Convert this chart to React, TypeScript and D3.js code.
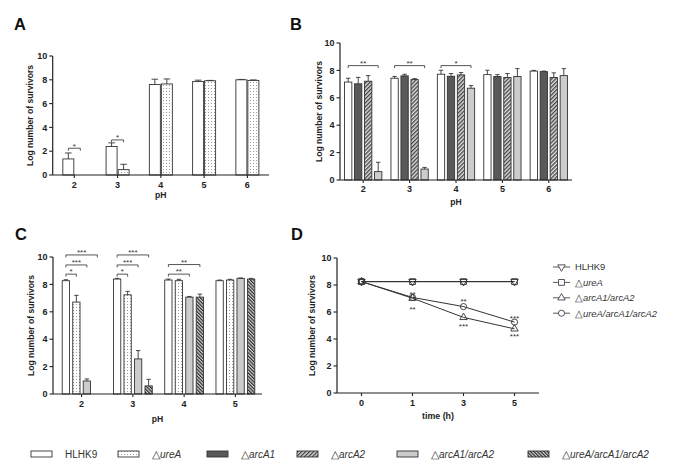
import React from 'react';
import * as d3 from 'd3';

const FONT = '"Liberation Sans", Arial, Helvetica, sans-serif';

// ---------- Panel A ----------
const pHA = ['2', '3', '4', '5', '6'];
const hlhk9A = [1.35, 2.4, 7.6, 7.85, 8.0];
const hlhk9AErr = [0.5, 0.3, 0.45, 0.12, 0.03];
const ureA_A = [0, 0.45, 7.65, 7.92, 7.95];
const ureA_AErr = [0, 0.45, 0.42, 0.03, 0.04];
const sigA = [
  { cat: '2', from: 0, to: 1, level: 2.25, label: '*' },
  { cat: '3', from: 0, to: 1, level: 2.95, label: '*' },
];

// ---------- Panel B ----------
const pHB = ['2', '3', '4', '5', '6'];
const hlhk9B = [7.15, 7.43, 7.72, 7.69, 7.95];
const hlhk9BErr = [0.28, 0.13, 0.29, 0.32, 0.05];
const arcA1B = [7.02, 7.6, 7.57, 7.55, 7.91];
const arcA1BErr = [0.47, 0.12, 0.2, 0.14, 0.04];
const arcA2B = [7.21, 7.33, 7.67, 7.48, 7.48];
const arcA2BErr = [0.41, 0.07, 0.17, 0.29, 0.34];
const dblB = [0.61, 0.8, 6.7, 7.55, 7.62];
const dblBErr = [0.68, 0.12, 0.19, 0.58, 0.51];
const sigB = [
  { cat: '2', from: 0, to: 3, level: 8.35, label: '**' },
  { cat: '3', from: 0, to: 3, level: 8.35, label: '**' },
  { cat: '4', from: 0, to: 3, level: 8.35, label: '*' },
];

// ---------- Panel C ----------
const pHC = ['2', '3', '4', '5'];
const hlhk9C = [8.27, 8.39, 8.32, 8.27];
const hlhk9CErr = [0.07, 0.05, 0.07, 0.05];
const ureA_C = [6.71, 7.24, 8.27, 8.32];
const ureA_CErr = [0.49, 0.25, 0.1, 0.05];
const dblC = [0.95, 2.56, 7.07, 8.44];
const dblCErr = [0.15, 0.61, 0.05, 0.03];
const tripleC = [0, 0.59, 7.07, 8.39];
const tripleCErr = [0, 0.48, 0.22, 0.05];
const sigC = [
  { cat: '2', from: 0, to: 1, level: 8.75, label: '*' },
  { cat: '2', from: 0, to: 2, level: 9.42, label: '***' },
  { cat: '2', from: 0, to: 3, level: 10.15, label: '***' },
  { cat: '3', from: 0, to: 1, level: 8.75, label: '*' },
  { cat: '3', from: 0, to: 2, level: 9.42, label: '***' },
  { cat: '3', from: 0, to: 3, level: 10.15, label: '***' },
  { cat: '4', from: 0, to: 2, level: 8.75, label: '**' },
  { cat: '4', from: 0, to: 3, level: 9.45, label: '**' },
];

// ---------- Panel D ----------
const timeD = ['0', '1', '3', '5'];
const hlhk9D = [8.25, 8.25, 8.25, 8.25];
const ureA_D = [8.25, 8.25, 8.25, 8.25];
const arcD = [8.25, 7.02, 5.6, 4.75];
const tripleD = [8.25, 7.08, 6.4, 5.25];
const sigD = [
  { t: '1', y: 7.48, label: '**' },
  { t: '1', y: 6.37, label: '**' },
  { t: '3', y: 6.96, label: '**' },
  { t: '3', y: 5.04, label: '***' },
  { t: '5', y: 5.7, label: '***' },
  { t: '5', y: 4.3, label: '***' },
];
const legendD = ['HLHK9', 'ureA', 'arcA1/arcA2', 'ureA/arcA1/arcA2'];

// ---------- Shared ----------
const yTicks = [0, 2, 4, 6, 8, 10];
const strainLabels = ['HLHK9', 'ureA', 'arcA1', 'arcA2', 'arcA1/arcA2', 'ureA/arcA1/arcA2'];

const FILLS: Record<string, string> = {
  HLHK9: '#ffffff',
  ureA: 'url(#dots)',
  arcA1: '#595959',
  arcA2: 'url(#hatchF)',
  'arcA1/arcA2': '#cccccc',
  'ureA/arcA1/arcA2': 'url(#hatchB)',
};

type S = { name: string; values: number[]; errors: number[] };
type Sig = { cat: string; from: number; to: number; level: number; label: string };

const AX = '#222';

function StrainLabel({ name, x, y, size }: { name: string; x: number; y: number; size: number }) {
  if (name === 'HLHK9')
    return (
      <text x={x} y={y} fontSize={size} fontFamily={FONT} fill="#333">
        HLHK9
      </text>
    );
  return (
    <text x={x} y={y} fontSize={size} fontFamily={FONT} fill="#333">
      <tspan fontSize={size * 1.05}>△</tspan>
      <tspan fontStyle="italic">{name}</tspan>
    </text>
  );
}

function YAxis({ x, y, titleX, yMid }: { x: number; y: d3.ScaleLinear<number, number>; titleX: number; yMid: number }) {
  return (
    <g>
      <line x1={x} x2={x} y1={y(0)} y2={y(10)} stroke={AX} strokeWidth={1.2} />
      {yTicks.map((t) => (
        <g key={t}>
          <line x1={x - 3.5} x2={x} y1={y(t)} y2={y(t)} stroke={AX} strokeWidth={1.1} />
          <text x={x - 5.5} y={y(t)} dy="0.35em" textAnchor="end" fontSize={9} fontWeight="bold" fontFamily={FONT} fill={AX}>
            {t}
          </text>
        </g>
      ))}
      <text
        transform={`translate(${titleX},${yMid}) rotate(-90)`}
        textAnchor="middle"
        fontSize={8.6}
        fontWeight="bold"
        fontFamily={FONT}
        fill={AX}
      >
        Log number of survivors
      </text>
    </g>
  );
}

function BarPanel(props: {
  categories: string[];
  series: S[];
  sigs: Sig[];
  axisX: number;
  xRange: [number, number];
  xEnd: number;
  yZero: number;
  yTen: number;
  barW: number;
  barStep: number;
  tickBase: number;
  titleBase: number;
  yTitleX: number;
  letter: string;
  letterX: number;
  letterY: number;
}) {
  const { categories, series, sigs, axisX, xRange, xEnd, yZero, yTen, barW, barStep } = props;
  const x = d3.scaleBand<string>().domain(categories).range(xRange);
  const y = d3.scaleLinear().domain([0, 10]).range([yZero, yTen]);
  const n = series.length;
  const groupW = (n - 1) * barStep + barW;
  const barX = (c: string, i: number) => (x(c) as number) + x.bandwidth() / 2 - groupW / 2 + i * barStep;
  const center = (c: string, i: number) => barX(c, i) + barW / 2;
  return (
    <g>
      <text x={props.letterX} y={props.letterY} fontSize={16.5} fontWeight="bold" fontFamily={FONT} fill="#111">
        {props.letter}
      </text>
      {series.map((s, i) =>
        categories.map((c, j) => {
          const v = s.values[j];
          const e = s.errors[j];
          const bx = barX(c, i);
          const cx = bx + barW / 2;
          return (
            <g key={`${i}-${j}`}>
              {v > 0 && (
                <rect x={bx} y={y(v)} width={barW} height={y(0) - y(v)} fill={FILLS[s.name]} stroke="#333" strokeWidth={0.9} />
              )}
              {e > 0 && (
                <g stroke="#333" strokeWidth={0.9}>
                  <line x1={cx} x2={cx} y1={y(v)} y2={y(v + e)} />
                  <line x1={cx - barW * 0.3} x2={cx + barW * 0.3} y1={y(v + e)} y2={y(v + e)} />
                </g>
              )}
            </g>
          );
        })
      )}
      {/* x axis */}
      <line x1={axisX} x2={xEnd} y1={y(0)} y2={y(0)} stroke={AX} strokeWidth={1.2} />
      {categories.map((c) => {
        const cx = (x(c) as number) + x.bandwidth() / 2;
        return (
          <g key={c}>
            <line x1={cx} x2={cx} y1={y(0)} y2={y(0) + 3} stroke={AX} strokeWidth={1.1} />
            <text x={cx} y={props.tickBase} textAnchor="middle" fontSize={9} fontWeight="bold" fontFamily={FONT} fill={AX}>
              {c}
            </text>
          </g>
        );
      })}
      <text
        x={(axisX + xEnd) / 2}
        y={props.titleBase}
        textAnchor="middle"
        fontSize={8.6}
        fontWeight="bold"
        fontFamily={FONT}
        fill={AX}
      >
        pH
      </text>
      <YAxis x={axisX} y={y} titleX={props.yTitleX} yMid={(yZero + yTen) / 2} />
      {/* significance brackets */}
      {sigs.map((s, k) => {
        const xa = center(s.cat, s.from);
        const xb = center(s.cat, s.to);
        const ly = y(s.level);
        return (
          <g key={k}>
            <path d={`M${xa},${ly + 2.5}V${ly}H${xb}V${ly + 2.5}`} fill="none" stroke="#444" strokeWidth={0.9} />
            <text x={(xa + xb) / 2} y={ly + 0.3} textAnchor="middle" fontSize={8} fontFamily={FONT} fill="#333">
              {s.label}
            </text>
          </g>
        );
      })}
    </g>
  );
}

const symbolTypes = [
  { type: d3.symbolTriangle, size: 24, rot: 180 },
  { type: d3.symbolSquare, size: 34, rot: 0 },
  { type: d3.symbolTriangle, size: 24, rot: 0 },
  { type: d3.symbolCircle, size: 30, rot: 0 },
];

function LinePanel() {
  const axisX = 337;
  const xEnd = 539;
  const x = d3.scalePoint<string>().domain(timeD).range([axisX, xEnd]).padding(0.48);
  const y = d3.scaleLinear().domain([0, 10]).range([393, 258]);
  const seriesD = [hlhk9D, ureA_D, arcD, tripleD];
  const line = d3
    .line<number>()
    .x((_, i) => x(timeD[i]) as number)
    .y((d) => y(d));
  return (
    <g>
      <text x={291} y={240} fontSize={16.5} fontWeight="bold" fontFamily={FONT} fill="#111">
        D
      </text>
      {seriesD.map((s, i) => (
        <path key={i} d={line(s) as string} fill="none" stroke="#333" strokeWidth={1} />
      ))}
      {seriesD.map((s, i) =>
        s.map((v, j) => (
          <path
            key={`${i}-${j}`}
            d={d3.symbol(symbolTypes[i].type, symbolTypes[i].size)() as string}
            transform={`translate(${x(timeD[j])},${y(v)}) rotate(${symbolTypes[i].rot})`}
            fill="none"
            stroke="#333"
            strokeWidth={0.9}
          />
        ))
      )}
      {sigD.map((s, k) => (
        <text key={k} x={x(s.t) as number} y={y(s.y) + 4.5} textAnchor="middle" fontSize={8} fontFamily={FONT} fill="#333">
          {s.label}
        </text>
      ))}
      <line x1={axisX} x2={xEnd} y1={y(0)} y2={y(0)} stroke={AX} strokeWidth={1.2} />
      {timeD.map((t) => (
        <g key={t}>
          <line x1={x(t) as number} x2={x(t) as number} y1={y(0)} y2={y(0) + 3} stroke={AX} strokeWidth={1.1} />
          <text x={x(t) as number} y={405.5} textAnchor="middle" fontSize={9} fontWeight="bold" fontFamily={FONT} fill={AX}>
            {t}
          </text>
        </g>
      ))}
      <text x={(axisX + xEnd) / 2} y={419} textAnchor="middle" fontSize={8.8} fontWeight="bold" fontFamily={FONT} fill={AX}>
        time (h)
      </text>
      <YAxis x={axisX} y={y} titleX={314.5} yMid={(393 + 258) / 2} />
      {/* legend */}
      {legendD.map((name, i) => {
        const ly = 267 + i * 15.4;
        return (
          <g key={name}>
            <line x1={553} x2={570} y1={ly} y2={ly} stroke="#444" strokeWidth={0.9} />
            <path
              d={d3.symbol(symbolTypes[i].type, symbolTypes[i].size)() as string}
              transform={`translate(561.5,${ly}) rotate(${symbolTypes[i].rot})`}
              fill="#fff"
              stroke="#444"
              strokeWidth={0.9}
            />
            <StrainLabel name={name} x={575} y={ly + 3.3} size={9.4} />
          </g>
        );
      })}
    </g>
  );
}

const bottomLegendX = [31, 118, 207, 297, 397, 528];

export default function App() {
  return (
    <svg width={685} height={475} style={{ position: 'absolute', left: 0, top: 0, background: '#fff' }}>
      <defs>
        <pattern id="dots" width="3" height="3" patternUnits="userSpaceOnUse">
          <rect width="3" height="3" fill="#fff" />
          <rect x="1" y="1" width="1" height="1" fill="#9a9a9a" />
        </pattern>
        <pattern id="hatchF" width="2.8" height="2.8" patternUnits="userSpaceOnUse" patternTransform="rotate(45)">
          <rect width="2.8" height="2.8" fill="#e0e0e0" />
          <line x1="0.7" y1="0" x2="0.7" y2="2.8" stroke="#333" strokeWidth="1.2" />
        </pattern>
        <pattern id="hatchB" width="2.4" height="2.4" patternUnits="userSpaceOnUse" patternTransform="rotate(-45)">
          <rect width="2.4" height="2.4" fill="#d6d6d6" />
          <line x1="0.6" y1="0" x2="0.6" y2="2.4" stroke="#222" strokeWidth="1.15" />
        </pattern>
      </defs>
      <rect width={685} height={475} fill="#fff" />
      <BarPanel
        categories={pHA}
        series={[
          { name: 'HLHK9', values: hlhk9A, errors: hlhk9AErr },
          { name: 'ureA', values: ureA_A, errors: ureA_AErr },
        ]}
        sigs={sigA}
        axisX={52.7}
        xRange={[52.7, 269]}
        xEnd={269}
        yZero={175}
        yTen={56}
        barW={11}
        barStep={12}
        tickBase={187.5}
        titleBase={197.5}
        yTitleX={33}
        letter="A"
        letterX={14}
        letterY={30}
      />
      <BarPanel
        categories={pHB}
        series={[
          { name: 'HLHK9', values: hlhk9B, errors: hlhk9BErr },
          { name: 'arcA1', values: arcA1B, errors: arcA1BErr },
          { name: 'arcA2', values: arcA2B, errors: arcA2BErr },
          { name: 'arcA1/arcA2', values: dblB, errors: dblBErr },
        ]}
        sigs={sigB}
        axisX={340}
        xRange={[340, 572]}
        xEnd={572}
        yZero={180}
        yTen={43}
        barW={7.3}
        barStep={10}
        tickBase={191.7}
        titleBase={205}
        yTitleX={321.5}
        letter="B"
        letterX={290}
        letterY={30}
      />
      <BarPanel
        categories={pHC}
        series={[
          { name: 'HLHK9', values: hlhk9C, errors: hlhk9CErr },
          { name: 'ureA', values: ureA_C, errors: ureA_CErr },
          { name: 'arcA1/arcA2', values: dblC, errors: dblCErr },
          { name: 'ureA/arcA1/arcA2', values: tripleC, errors: tripleCErr },
        ]}
        sigs={sigC}
        axisX={53}
        xRange={[56, 261]}
        xEnd={262}
        yZero={394}
        yTen={257}
        barW={7.3}
        barStep={10.5}
        tickBase={406.7}
        titleBase={421.5}
        yTitleX={33.5}
        letter="C"
        letterX={15}
        letterY={240}
      />
      <LinePanel />
      {/* bottom legend */}
      {strainLabels.map((name, i) => (
        <g key={name}>
          <rect x={bottomLegendX[i]} y={451} width={21} height={6} fill={FILLS[name]} stroke="#333" strokeWidth={0.9} />
          <StrainLabel name={name} x={bottomLegendX[i] + 34} y={458} size={10} />
        </g>
      ))}
    </svg>
  );
}
